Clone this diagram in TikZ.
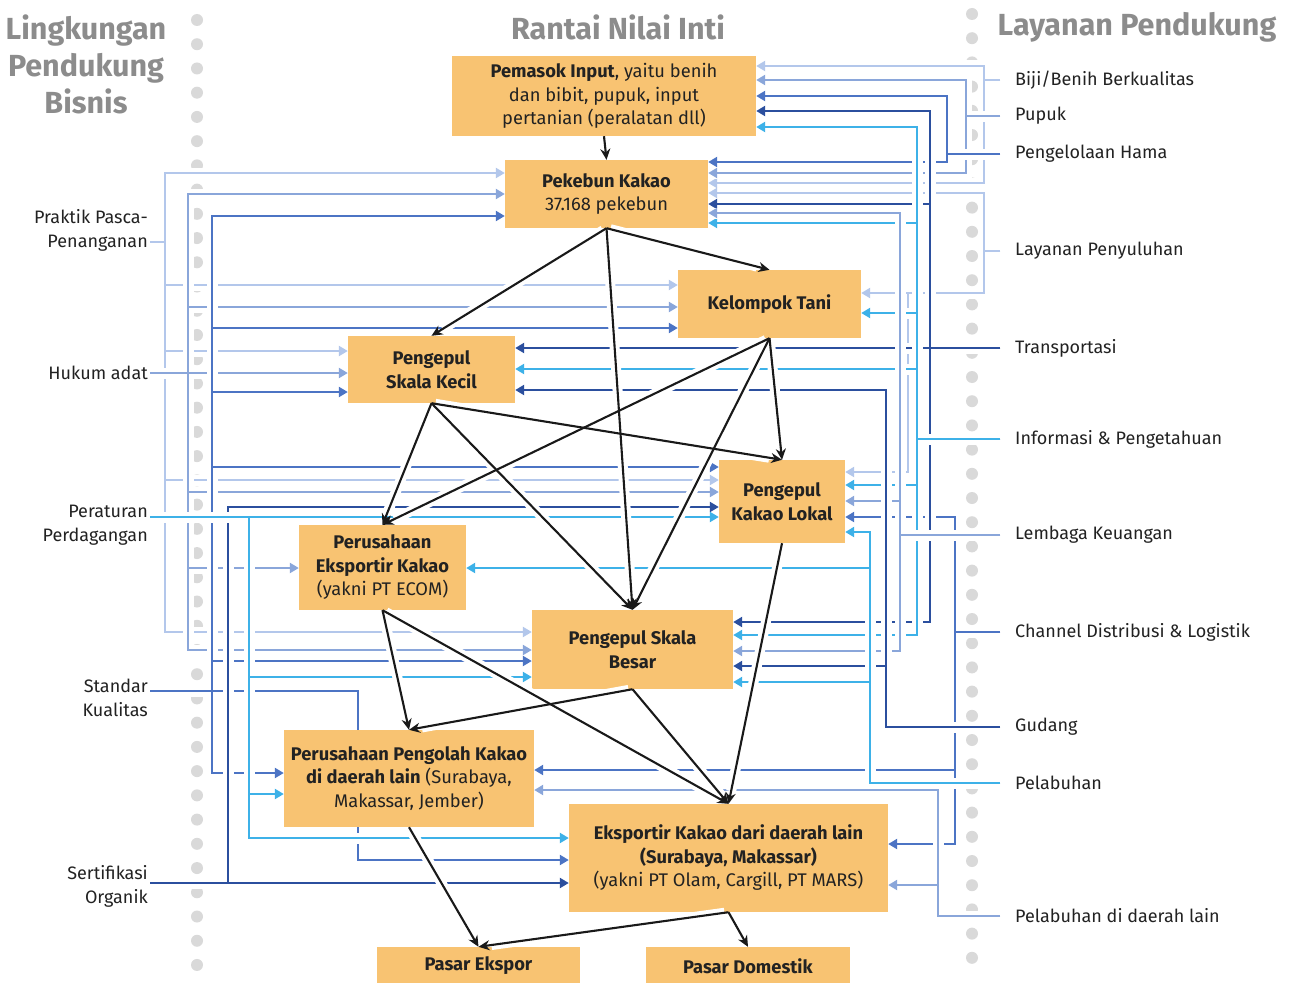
\documentclass[tikz,border=0pt]{standalone}
\usepackage{fontspec}
\setmainfont{Fira Sans}
\usetikzlibrary{arrows.meta,calc}
\definecolor{cA}{HTML}{B3C7EB}
\definecolor{cB}{HTML}{8AA6DA}
\definecolor{cC}{HTML}{4C74C4}
\definecolor{cD}{HTML}{2B4F9E}
\definecolor{cE}{HTML}{3DB1E8}
\definecolor{boxc}{HTML}{F8C372}
\definecolor{txt}{HTML}{222222}
\definecolor{hdr}{HTML}{8C8C8C}
\definecolor{dotc}{HTML}{D9D9D9}
\tikzset{
  box/.style={fill=boxc, draw=none, align=center, inner sep=0pt, text=txt, font=\fontsize{18.3}{23.5}\selectfont},
  conn/.style={line width=2.5pt},
  casing/.style={draw=white, line width=11pt},
  arr/.style={-{Triangle[length=9pt,width=10pt]}},
  flow/.style={line width=2.1pt, draw=black!90, -{Stealth[length=11pt,width=10pt]}},
  flowcase/.style={draw=white, line width=10pt, shorten <=4pt, shorten >=13pt},
  rlab/.style={anchor=west, inner xsep=15pt, inner ysep=0pt, text=txt, font=\fontsize{18}{24}\selectfont},
  llab/.style={anchor=east, inner xsep=2pt, inner ysep=0pt, align=right, text=txt, font=\fontsize{18}{24}\selectfont},
  head/.style={align=center, text=hdr, font=\fontsize{30.5}{37}\selectfont\bfseries}
}
% right-side service: #1 label, #2 colour, #3 list x/y/target
\newcommand\rsvc[3]{%
  \foreach \xx/\yy/\tg in {#3} {\draw[casing] (#1.west) -| (\xx,\yy) -- (\tg.east|-0,\yy);}
  \foreach \xx/\yy/\tg in {#3} {\draw[conn,#2,arr] (#1.west) -| (\xx,\yy) -- (\tg.east|-0,\yy);}
}
% left-side service: #1 start coordinate, #2 colour, #3 list x/y/target
\newcommand\lsvc[3]{%
  \foreach \xx/\yy/\tg in {#3} {\draw[casing] (#1) -| (\xx,\yy) -- (\tg.west|-0,\yy);}
  \foreach \xx/\yy/\tg in {#3} {\draw[conn,#2,arr] (#1) -| (\xx,\yy) -- (\tg.west|-0,\yy);}
}
\begin{document}
\begin{tikzpicture}[x=1pt,y=-1pt]
\useasboundingbox (0,0) rectangle (1292,982);
\fill[white] (0,0) rectangle (1292,982);
% dotted columns
\foreach \i in {0,...,39} {
  \fill[dotc] (197,{20+24.23*\i}) circle (6pt);
  \fill[dotc] (972,{14+24.2*\i}) circle (6pt);
}
% headers
\node[head] (h1) at (86,64) {Lingkungan\\Pendukung\\Bisnis};
\node[head] (h2) at (618,27) {Rantai Nilai Inti};
\node[head] (h3) at (1137,27) {Layanan Pendukung};
% right labels
\node[rlab] (bij) at (1000,80) {Biji/Benih Berkualitas};
\node[rlab] (pup) at (1000,116) {Pupuk};
\node[rlab] (ham) at (1000,154) {Pengelolaan Hama};
\node[rlab] (lay) at (1000,251) {Layanan Penyuluhan};
\node[rlab] (tra) at (1000,348) {Transportasi};
\node[rlab] (inf) at (1000,439) {Informasi \& Pengetahuan};
\node[rlab] (lem) at (1000,535) {Lembaga Keuangan};
\node[rlab] (cha) at (1000,632) {Channel Distribusi \& Logistik};
\node[rlab] (gud) at (1000,727) {Gudang};
\node[rlab] (pel) at (1000,783) {Pelabuhan};
\node[rlab] (pdl) at (1000,916) {Pelabuhan di daerah lain};
% left labels
\node[llab] (pra) at (150,230) {Praktik Pasca-\\Penanganan};
\node[llab] (huk) at (150,373) {Hukum adat};
\node[llab] (per) at (150,525) {Peraturan\\Perdagangan};
\node[llab] (sta) at (150,698) {Standar\\Kualitas};
\node[llab] (ser) at (150,886) {Sertifikasi\\Organik};
% box anchors (boxes are drawn later, on top)
\path
 (604,96) node[box, minimum width=304pt, minimum height=80pt] (pem) {}
 (606.5,194) node[box, minimum width=203pt, minimum height=68pt] (pek) {}
 (769.5,304) node[box, minimum width=183pt, minimum height=68pt] (kel) {}
 (431.5,369.5) node[box, minimum width=167pt, minimum height=67pt] (kec) {}
 (782,501.5) node[box, minimum width=126pt, minimum height=83pt] (lok) {}
 (382.5,567.5) node[box, minimum width=167pt, minimum height=85pt] (eco) {}
 (632.5,649.5) node[box, minimum width=201pt, minimum height=79pt] (bes) {}
 (409,778.5) node[box, minimum width=250pt, minimum height=97pt] (pgl) {}
 (728.5,858) node[box, minimum width=319pt, minimum height=108pt] (eks) {}
 (478.5,966) node[box, minimum width=203pt, minimum height=38pt] (pex) {}
 (748,966) node[box, minimum width=204pt, minimum height=38pt] (pdo) {};
% ---------- right side services (outer first) ----------
\rsvc{bij}{cA}{984/66/pem, 984/183/pek}
% Layanan Penyuluhan
\draw[casing] (lay.west) -| (984,193) -- (pek.east|-0,193);
\draw[casing] (lay.west) -| (984,293) -- (kel.east|-0,293);
\draw[casing] (lay.west) -| (984,293) -| (908,472) -- (lok.east|-0,472);
\draw[conn,cA,arr] (lay.west) -| (984,193) -- (pek.east|-0,193);
\draw[conn,cA,arr] (lay.west) -| (984,293) -- (kel.east|-0,293);
\draw[conn,cA,arr] (lay.west) -| (984,293) -| (908,472) -- (lok.east|-0,472);
\rsvc{pup}{cB}{966/80/pem, 966/173/pek}
\rsvc{cha}{cC}{955/517/lok, 955/770/pgl, 955/844/eks}
\rsvc{ham}{cC}{947/96/pem, 947/162/pek}
\rsvc{pdl}{cB}{938/790/pgl, 938/885/eks}
\rsvc{tra}{cD}{930/111/pem, 930/204/pek, 930/348/kec, 930/622/bes}
\rsvc{inf}{cE}{917/127/pem, 917/223/pek, 917/313/kel, 917/369/kec, 917/485/lok, 917/635/bes}
\rsvc{lem}{cB}{900/213/pek, 900/501/lok, 900/651/bes}
\rsvc{gud}{cD}{886/390/kec, 886/666/bes}
\rsvc{pel}{cE}{870/532/lok, 870/568/eco, 870/682/bes}
% ---------- left side services (outer first) ----------
\lsvc{pra.east|-0,242}{cA}{165/173/pek, 165/285/kel, 165/351/kec, 165/480/lok, 165/632/bes}
\lsvc{huk.east}{cB}{188/194/pek, 188/307/kel, 188/373/kec, 188/492/lok, 188/568/eco, 188/650/bes}
\lsvc{sta.east|-0,691}{cC}{212/216/pek, 212/328/kel, 212/392/kec, 212/467/lok, 212/661/bes, 212/773/pgl, 358/860/eks}
\lsvc{ser.east|-0,883}{cD}{228/507/lok, 228/883/eks}
\lsvc{per.east|-0,517}{cE}{249/517/lok, 249/677/bes, 249/794/pgl, 249/838/eks}
% ---------- boxes with text ----------
\node[box, minimum width=304pt, minimum height=80pt] at (pem) {\textbf{Pemasok Input}, yaitu benih\\dan bibit, pupuk, input\\pertanian (peralatan dll)};
\node[box, minimum width=203pt, minimum height=68pt] at (pek) {\textbf{Pekebun Kakao}\\37.168 pekebun};
\node[box, minimum width=183pt, minimum height=68pt] at (kel) {\textbf{Kelompok Tani}};
\node[box, minimum width=167pt, minimum height=67pt] at (kec) {\textbf{Pengepul}\\\textbf{Skala Kecil}};
\node[box, minimum width=126pt, minimum height=83pt] at (lok) {\textbf{Pengepul}\\\textbf{Kakao Lokal}};
\node[box, minimum width=167pt, minimum height=85pt] at (eco) {\textbf{Perusahaan}\\\textbf{Eksportir Kakao}\\(yakni PT ECOM)};
\node[box, minimum width=201pt, minimum height=79pt] at (bes) {\textbf{Pengepul Skala}\\\textbf{Besar}};
\node[box, minimum width=250pt, minimum height=97pt] at (pgl) {\textbf{Perusahaan Pengolah Kakao}\\\textbf{di daerah lain} (Surabaya,\\Makassar, Jember)};
\node[box, minimum width=319pt, minimum height=108pt] at (eks) {\textbf{Eksportir Kakao dari daerah lain}\\\textbf{(Surabaya, Makassar)}\\(yakni PT Olam, Cargill, PT MARS)};
\node[box, minimum width=203pt, minimum height=38pt] at (pex) {\textbf{Pasar Ekspor}};
\node[box, minimum width=204pt, minimum height=38pt] at (pdo) {\textbf{Pasar Domestik}};
% ---------- value chain flows ----------
\foreach \a/\b in {pem/pek, pek/kec, pek/kel, pek/bes, kel/eco, kel/lok, kel/bes, kec/eco, kec/lok, kec/bes, lok/eks, eco/pgl, eco/eks, bes/pgl, bes/eks, pgl/pex, eks/pex, eks/pdo}
  {\draw[flowcase] (\a.south) -- (\b.north);}
\foreach \a/\b in {pem/pek, pek/kec, pek/kel, pek/bes, kel/eco, kel/lok, kel/bes, kec/eco, kec/lok, kec/bes, lok/eks, eco/pgl, eco/eks, bes/pgl, bes/eks, pgl/pex, eks/pex, eks/pdo}
  {\draw[flow] (\a.south) -- (\b.north);}
\end{tikzpicture}
\end{document}
